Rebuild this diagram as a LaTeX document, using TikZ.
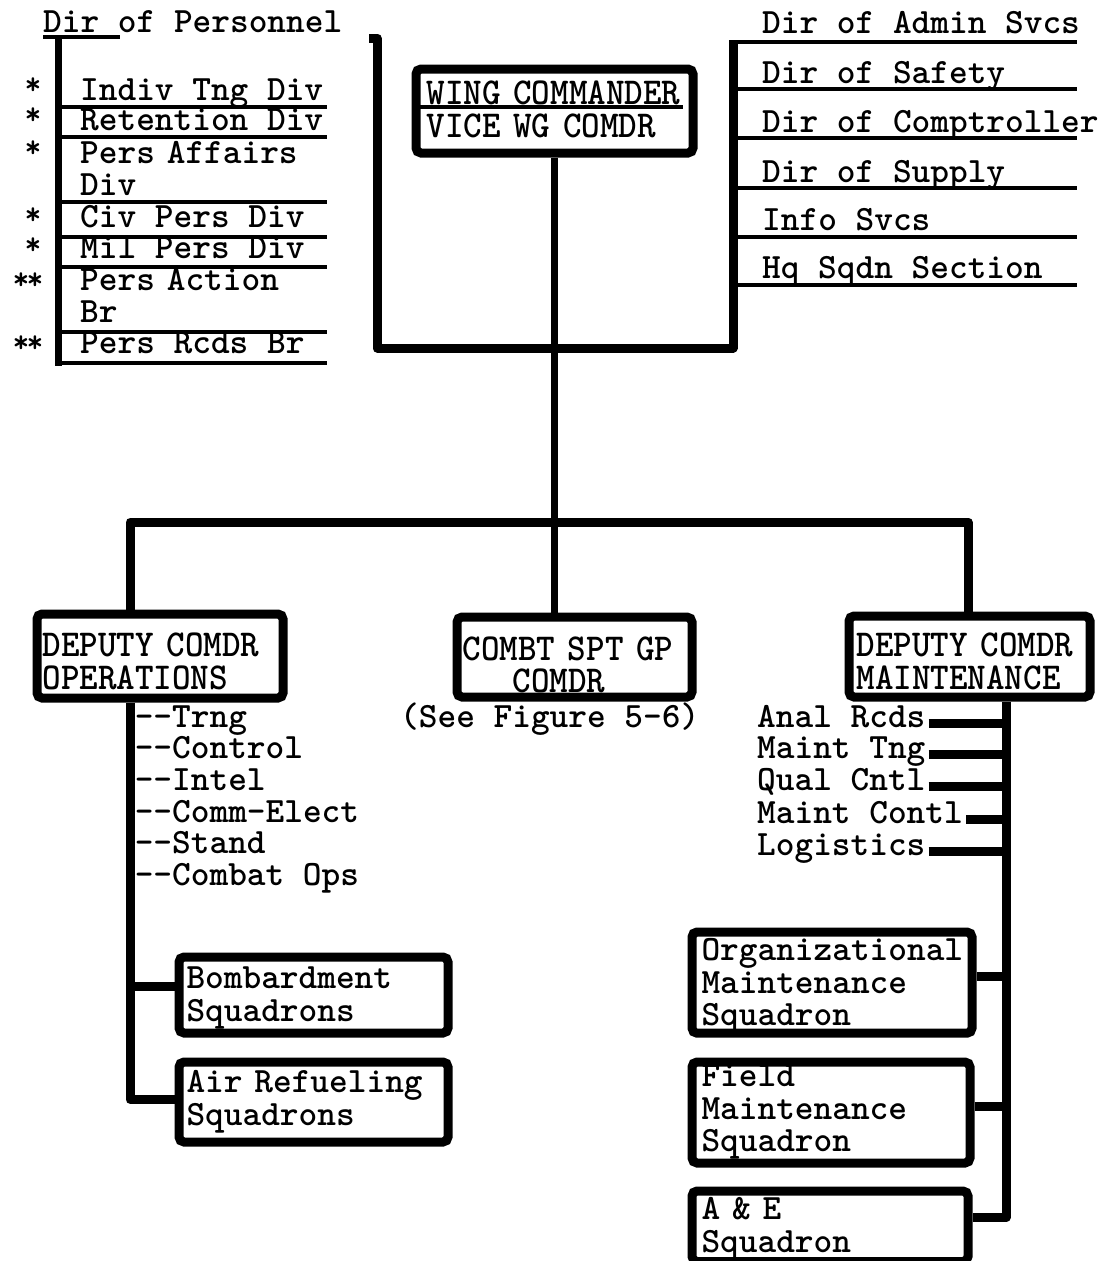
\documentclass[tikz,border=0pt]{standalone}
\usepackage{fontspec}
\newfontfamily\twf{lmmonolt10-bold.otf}
\newfontfamily\hdf{lmmonolt10-bold.otf}[FakeStretch=0.93]
\newcommand\bodyfont{\twf\fontsize{35.6}{32.5}\selectfont}
\newcommand\headfont{\hdf\fontsize{38}{32.5}\selectfont}
\newcommand\starfont{\twf\fontsize{32}{32}\selectfont}
\newcommand\bxtop[1]{\rule{0pt}{#1pt}}
\newcommand\bxbot[1]{\rule[-#1pt]{0pt}{#1pt}}
\begin{document}
\begin{tikzpicture}[x=1pt,y=-1pt,
  box/.style={draw, line width=9pt, rounded corners=5pt, inner ysep=0pt, anchor=north west, align=left, font=\headfont},
  sqbox/.style={box, font=\bodyfont},
  lbl/.style={inner sep=0pt, anchor=base west, font=\bodyfont},
  star/.style={inner sep=0pt, anchor=base, font=\starfont},
  wire/.style={line width=9pt, line join=round},
  rulel/.style={line width=4pt},
  stem/.style={line width=7pt}]
\fill[white] (0,0) rectangle (1099,1261);
\useasboundingbox (0,0) rectangle (1099,1261);

% ---------- boxes ----------
\node[box, minimum width=277pt, text width=256pt, inner xsep=10.5pt] (wing) at (411.5,64.5)
  {\mbox{\bxtop{35.5}WING COMMANDER}\\\mbox{VICE WG COMDR\bxbot{16}}};
\draw[rulel] (420,107) -- (683,107);

\node[box, minimum width=246pt, text width=235pt, inner xsep=5.5pt] (dco) at (32.5,609.5)
  {\mbox{\bxtop{42.5}DEPUTY COMDR}\\\mbox{OPERATIONS\bxbot{9}}};
\node[box, minimum width=235pt, text width=224pt, inner xsep=5.5pt] (combt) at (452.5,612.5)
  {\mbox{\bxtop{43}COMBT SPT GP}\\\mbox{\hspace*{50pt}COMDR\bxbot{4.5}}};
\node[box, minimum width=241pt, text width=226pt, inner xsep=7.5pt] (dcm) at (844.5,611.5)
  {\mbox{\bxtop{40.5}DEPUTY COMDR}\\\mbox{MAINTENANCE\bxbot{8}}};

\node[sqbox, minimum width=269pt, text width=254pt, inner xsep=7.5pt] (bomb) at (174.5,952.5)
  {\mbox{\bxtop{31.5}Bombardment}\\\mbox{Squadrons\bxbot{12}}};
\node[sqbox, minimum width=269pt, text width=254pt, inner xsep=7.5pt] (airref) at (174.5,1057.5)
  {\mbox{\bxtop{30.5}Air Refueling}\\\mbox{Squadrons\bxbot{17}}};

\node[sqbox, minimum width=280pt, text width=261pt, inner xsep=9.5pt] (org) at (687.5,927.5)
  {\mbox{\bxtop{28.5}Organizational}\\\mbox{Maintenance}\\\mbox{Squadron\bxbot{7.5}}};
\node[sqbox, minimum width=278pt, text width=259pt, inner xsep=9.5pt] (field) at (687.5,1057.5)
  {\mbox{\bxtop{24.5}Field}\\\mbox{Maintenance}\\\mbox{Squadron\bxbot{11.5}}};
\node[sqbox, minimum width=276pt, text width=257pt, inner xsep=9.5pt] (ae) at (687.5,1186.5)
  {\mbox{\bxtop{28.5}A \& E}\\\mbox{Squadron\bxbot{9.5}}};

\node[lbl] (seefig) at (400,727) {(See Figure 5-6)};

% ---------- Dir of Personnel list ----------
\node[lbl] (dirp) at (43,32) {Dir of Personnel};
\node[lbl] (p1) at (80,100) {Indiv Tng Div};
\node[lbl] (p2) at (80,130) {Retention Div};
\node[lbl, text width=250pt, align=left] (p3) at (80,163) {Pers Affairs\\Div};
\node[lbl] (p4) at (80,227) {Civ Pers Div};
\node[lbl] (p5) at (80,258) {Mil Pers Div};
\node[lbl, text width=250pt, align=left] (p6) at (80,290) {Pers Action\\Br};
\node[lbl] (p7) at (80,353) {Pers Rcds Br};

\node[star] (s1) at (33,94) {*};
\node[star] (s2) at (33,124) {*};
\node[star] (s3) at (33,157) {*};
\node[star] (s4) at (33,224) {*};
\node[star] (s5) at (33,254) {*};
\node[star] (s6) at (28,289) {*\kern-3pt*};
\node[star] (s7) at (28,352) {*\kern-3pt*};

\coordinate (pTop) at (58,37);
\coordinate (pBot) at (58,366);
\draw[stem] (pTop) -- (pBot);
\draw[rulel] (43,37) -- (120,37);
\foreach \yy in {107,137,202,237,267,332,363} \draw[rulel] (58,\yy) -- (327,\yy);

% ---------- right staff list ----------
\node[lbl] (r1) at (762,33) {Dir of Admin Svcs};
\node[lbl] (r2) at (762,83) {Dir of Safety};
\node[lbl] (r3) at (762,132) {Dir of Comptroller};
\node[lbl] (r4) at (762,182) {Dir of Supply};
\node[lbl] (r5) at (762,230) {Info Svcs};
\node[lbl] (r6) at (762,278) {Hq Sqdn Section};
\foreach \yy in {42,89,138,188,237,285} \draw[rulel] (733,\yy) -- (1077,\yy);

% ---------- staff bracket ----------
\coordinate (lbS) at (369,38);
\coordinate (lbT) at (377,38);
\coordinate (lbB) at (377,348);
\coordinate (rbB) at (733,348);
\coordinate (rbT) at (733,40);
\draw[wire] (lbS) -- (lbT) -- (lbB) -- (rbB) -- (rbT);

% ---------- main stem and bus ----------
\draw[stem] (wing.south) -- (wing.south |- combt.north);
\coordinate (busL) at (130,522);
\coordinate (busR) at (968,522);
\draw[wire] (busL |- dco.north) -- (busL) -- (busR) -- (busR |- dcm.north);

% ---------- operations ----------
\node[lbl] (o1) at (134.6,727) {-\kern0pt-Trng};
\node[lbl] (o2) at (134.6,758) {-\kern0pt-Control};
\node[lbl] (o3) at (134.6,790) {-\kern0pt-Intel};
\node[lbl] (o4) at (134.6,822) {-\kern0pt-Comm-Elect};
\node[lbl] (o5) at (134.6,853) {-\kern0pt-Stand};
\node[lbl] (o6) at (134.6,885) {-\kern0pt-Combat Ops};
\path ([yshift=8.5pt]bomb.west) coordinate (bombJ);
\path ([yshift=2.5pt]airref.west) coordinate (airJ);
\draw[wire] (busL |- dco.south) |- (airJ);
\draw[wire] (busL |- bombJ) -- (bombJ);

% ---------- maintenance ----------
\node[lbl] (m1) at (757,727) {Anal Rcds};
\node[lbl] (m2) at (757,758) {Maint Tng};
\node[lbl] (m3) at (757,790) {Qual Cntl};
\node[lbl] (m4) at (757,823) {Maint Contl};
\node[lbl] (m5) at (757,855) {Logistics};
\coordinate (mV) at (1006,700);
\path ([yshift=6pt]org.east) coordinate (orgJ);
\path ([yshift=6pt]field.east) coordinate (fieldJ);
\path ([yshift=8.75pt]ae.east) coordinate (aeJ);
\draw[wire] (mV |- dcm.south) |- (aeJ);
\draw[wire] (orgJ) -- (mV |- orgJ);
\draw[wire] (fieldJ) -- (mV |- fieldJ);
\foreach \n in {m1,m2,m3,m4,m5} {
  \path ([xshift=3pt,yshift=4pt]\n.base east) coordinate (j\n);
  \draw[wire] (j\n) -- (mV |- j\n);
}
\end{tikzpicture}
\end{document}
